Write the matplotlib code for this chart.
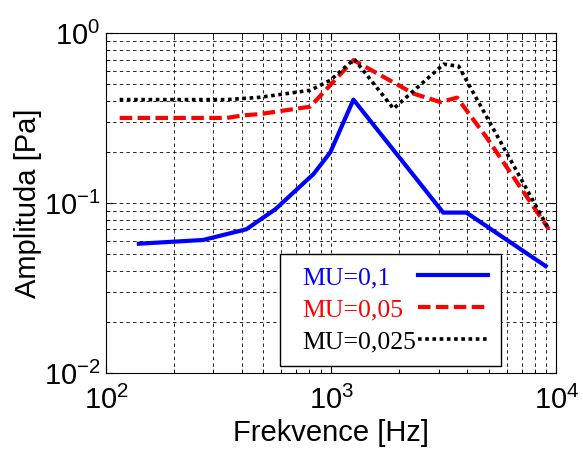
import numpy as np
import matplotlib
matplotlib.use('Agg')
import matplotlib.pyplot as plt
from matplotlib.ticker import NullFormatter, LogLocator
from matplotlib.offsetbox import DrawingArea

plt.rcParams['font.family'] = 'Liberation Sans'
plt.rcParams['mathtext.fontset'] = 'custom'
plt.rcParams['mathtext.rm'] = 'Liberation Sans'

# Data (frequency in Hz, amplitude in Pa)
f_mu01 = [140, 270, 420, 565, 835, 990, 1255, 3140, 3980, 8950]
a_mu01 = [0.0577, 0.0607, 0.0702, 0.0921, 0.1485, 0.199, 0.407, 0.088, 0.088, 0.0426]

f_mu005 = [115, 344, 408, 483, 807, 1255, 2320, 3050, 3620, 4880, 9250]
a_mu005 = [0.3175, 0.3175, 0.329, 0.3345, 0.370, 0.695, 0.4416, 0.3937, 0.418, 0.245, 0.0702]

f_mu0025 = [115, 344, 483, 807, 990, 1265, 1890, 3155, 3680, 9250]
a_mu0025 = [0.407, 0.407, 0.420, 0.462, 0.529, 0.705, 0.360, 0.658, 0.640, 0.0702]

fig = plt.figure(figsize=(5.83, 4.49), dpi=100)
ax = fig.add_axes([0.1818, 0.1693, 0.7727, 0.7565])

ax.plot(f_mu01, a_mu01, color='#0000ff', lw=3.0, label='MU=0,1')
ax.plot(f_mu005, a_mu005, color='#ff0000', lw=3.0, dashes=(3.0, 1.3), label='MU=0,05')
ax.plot(f_mu0025, a_mu0025, color='black', lw=2.6, dashes=(1.0, 1.0), label='MU=0,025')

ax.set_xscale('log')
ax.set_yscale('log')
ax.set_xlim(100, 1e4)
ax.set_ylim(1e-2, 1)
ax.xaxis.set_minor_formatter(NullFormatter())
ax.yaxis.set_minor_formatter(NullFormatter())
ax.xaxis.set_minor_locator(LogLocator(subs=np.arange(2, 10)))
ax.yaxis.set_minor_locator(LogLocator(subs=np.arange(2, 10)))

ax.grid(True, which='both', color='black', lw=0.6, ls=(0, (4, 4)))
ax.tick_params(which='both', direction='in', top=True, right=True)
ax.tick_params(which='major', length=5, labelsize=21)
ax.tick_params(which='minor', length=3)
ax.tick_params(axis='x', pad=9)
ax.tick_params(axis='y', pad=4)
for s in ax.spines.values():
    s.set_linewidth(0.8)

ax.set_xlabel('Frekvence [Hz]', fontsize=21)
ax.set_ylabel('Amplituda [Pa]', fontsize=21)
ax.xaxis.set_label_coords(0.5, -0.135)
ax.yaxis.set_label_coords(-0.143, 0.5)

leg = ax.legend(loc='lower right', bbox_to_anchor=(0.876, 0.02), markerfirst=False,
                prop={'family': 'Liberation Serif', 'size': 18.5}, labelcolor='linecolor',
                fancybox=False, edgecolor='black', framealpha=1, handlelength=2.7,
                handletextpad=0.1, labelspacing=0.35, borderpad=0.5, borderaxespad=0)
leg.get_frame().set_linewidth(1.0)

# left-align the legend texts (extra left margin) with the samples in one column
fig.canvas.draw()
rend = fig.canvas.get_renderer()
widths = [t.get_window_extent(rend).width for t in leg.get_texts()]
col = leg._legend_handle_box.get_children()[0]
for row, w in zip(col.get_children(), widths):
    text_box, handle_box = row.get_children()
    gap = (max(widths) - w) * 72 / fig.dpi + 0.1 * 18.5
    row.sep = 0
    row._children = [DrawingArea(6.4, 0.1), text_box, DrawingArea(gap, 0.1), handle_box]

fig.savefig('out.png', dpi=100)
